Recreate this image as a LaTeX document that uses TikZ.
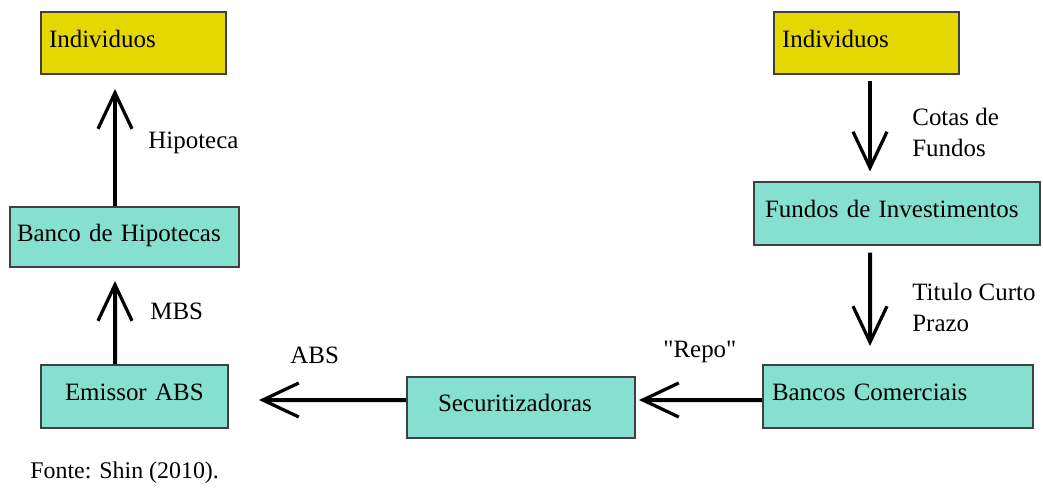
\documentclass[tikz,border=0pt]{standalone}
\usepackage{fontspec}
\setmainfont{Liberation Serif}[Ligatures=TeXOff]
\usetikzlibrary{calc,arrows.meta}
\definecolor{amarelo}{RGB}{228,216,0}
\definecolor{verdeagua}{RGB}{134,224,208}
\definecolor{borda}{RGB}{64,64,64}

\begin{document}
\begin{tikzpicture}[
		font=\fontsize{14.2}{17.6}\selectfont,
		caixa/.style={draw=borda, line width=0.04cm, align=left, inner ysep=0pt, text height=0.34cm, text depth=0.18cm},
		seta/.style={line width=0.08cm, -{Straight Barb[length=0.72cm, width=0.68cm, line width=0.065cm]}},
		rotulo/.style={anchor=west, inner sep=0pt, align=left}
	]
			%%%%% START %%%%%
			
			\useasboundingbox (0, 0) rectangle (20.86, 9.86);
			
			\node[caixa, fill=amarelo, minimum height=1.24cm, text width=3.38cm, inner xsep=0.16cm] (indL) at (2.67, 9.0) {Individuos};
			\node[caixa, fill=amarelo, minimum height=1.24cm, text width=3.38cm, inner xsep=0.16cm] (indR) at (17.33, 9.0) {Individuos};
			
			\node[caixa, fill=verdeagua, minimum height=1.20cm, text width=4.30cm, inner xsep=0.14cm] (banco) at (2.49, 5.12) {Banco de Hipotecas};
			\node[caixa, fill=verdeagua, minimum height=1.26cm, text width=5.28cm, inner xsep=0.22cm] (fundos) at (17.94, 5.60) {Fundos de Investimentos};
			
			\node[caixa, fill=verdeagua, minimum height=1.26cm, text width=2.78cm, inner xsep=0.48cm] (emissor) at (2.69, 1.93) {Emissor ABS};
			\node[caixa, fill=verdeagua, minimum height=1.22cm, text width=3.32cm, inner xsep=0.62cm] (secur) at (10.42, 1.71) {Securitizadoras};
			\node[caixa, fill=verdeagua, minimum height=1.26cm, text width=5.04cm, inner xsep=0.18cm] (bancos) at (17.96, 1.93) {Bancos Comerciais};
			
			% fluxos
			\draw[seta] ($(banco.north)+(-0.19, 0)$) -- ($(indL.south)+(-0.37, -0.28)$);
			\draw[seta] ($(emissor.north)+(-0.39, 0)$) -- ($(banco.south)+(-0.19, -0.26)$);
			\draw[seta] ($(indR.south)+(0.07, -0.12)$) -- ($(fundos.north)+(-0.54, 0.18)$);
			\draw[seta] ($(fundos.south)+(-0.54, -0.14)$) -- ($(bancos.north)+(-0.56, 0.36)$);
			\draw[seta] ($(bancos.west)+(0, -0.07)$) -- ($(secur.east)+(0.06, 0.15)$);
			\draw[seta] ($(secur.west)+(0, 0.15)$) -- ($(emissor.east)+(0.6, -0.07)$);
			
			\node[rotulo] (hipoteca) at (2.96, 7.00) {Hipoteca};
			\node[rotulo] (mbs) at (3.00, 3.64) {MBS};
			\node[rotulo] (abs) at (5.80, 2.76) {ABS};
			\node[rotulo] (repo) at (13.26, 2.82) {"Repo"};
			\node[rotulo] (cotas) at (18.24, 7.21) {Cotas de\\Fundos};
			\node[rotulo] (titulo) at (18.24, 3.72) {Titulo Curto\\Prazo};
			
			\node[rotulo, font=\fontsize{13.6}{16}\selectfont] (fonte) at (0.60, 0.40) {Fonte: Shin (2010).};
			
			%%%%% END %%%%%
\end{tikzpicture}
\end{document}
